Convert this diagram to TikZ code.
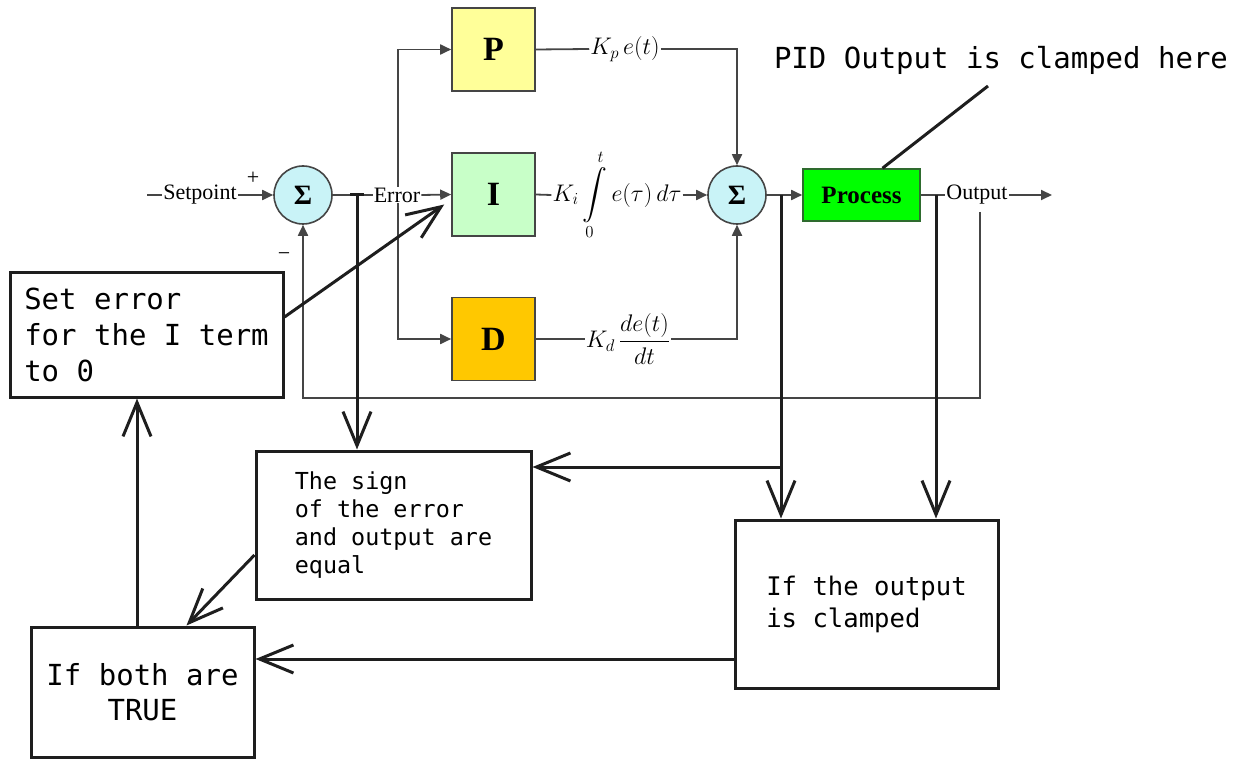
\RequirePackage{fix-cm}
\documentclass[tikz,border=0pt]{standalone}
\usepackage{amsmath}
\usepackage{fontspec}
\setmainfont{Liberation Serif}
\setmonofont{DejaVu Sans Mono}
\usetikzlibrary{arrows.meta, positioning, calc}
\definecolor{linegray}{HTML}{454545}
\definecolor{inkblack}{HTML}{1E1E1E}
\definecolor{sumfill}{HTML}{C9F3F7}
\definecolor{pfill}{HTML}{FFFF99}
\definecolor{ifill}{HTML}{C8FFC8}
\definecolor{dfill}{HTML}{FFC800}
\definecolor{procfill}{HTML}{00FF00}
\definecolor{procdraw}{HTML}{2E6B2E}

\begin{document}
\begin{tikzpicture}[
    x=1pt, y=-1pt,
    every node/.style={font=\fontsize{22}{26}\selectfont},
    sig/.style={draw=linegray, line width=1.8pt},
    sigarrow/.style={sig, -{Triangle[length=11pt, width=10pt]}},
    blk/.style={draw=linegray, line width=1.6pt, minimum width=83pt, minimum height=83pt,
        font=\fontsize{34}{34}\selectfont\bfseries},
    sumnode/.style={circle, draw=linegray, line width=1.6pt, fill=sumfill, minimum size=58pt,
        inner sep=0pt, font=\fontsize{28}{28}\selectfont\bfseries},
    lbl/.style={inner sep=1pt},
    term/.style={inner sep=1pt, font=\fontsize{24}{28}\selectfont},
    note/.style={draw=inkblack, line width=3pt},
    notearrow/.style={note, -{Straight Barb[length=34pt, width=28pt]}},
    notebox/.style={draw=inkblack, line width=3pt, align=left, inner sep=0pt},
]

\useasboundingbox (0,0) rectangle (1239,759);

% summing junctions, the three terms and the process
\node[sumnode] (sum1) at (303,195) {Σ};
\node[blk, fill=pfill] (pblk) at (493.5,49.5) {P};
\node[blk, fill=ifill] (iblk) at (493.5,194.5) {I};
\node[blk, fill=dfill] (dblk) at (493.5,339) {D};
\node[sumnode] (sum2) at (737,195) {Σ};
\node[draw=procdraw, fill=procfill, line width=1.6pt, minimum width=117pt, minimum height=52pt,
    font=\fontsize{25}{25}\selectfont\bfseries] (proc) at (861.5,195) {Process};

% input side
\coordinate (spin) at (147,195);
\node[lbl] (setpt) at (200,195) {Setpoint};
\node[lbl] (plus) at (253,178) {+};
\node[lbl] (minus) at (284,257) {−};
\draw[sig] (spin) -- (setpt.west);
\draw[sigarrow] (setpt.east) -- (sum1.west);

% error branches
\coordinate (br) at (398,195);
\draw[sigarrow] (br) |- (pblk.west);
\draw[sigarrow] (br) |- (dblk.west);
\node[lbl, fill=white] (errlbl) at (397,195) {Error};
\draw[sig] (sum1.east) -- (errlbl.west);
\draw[sigarrow] (errlbl.east) -- (iblk.west);

% the terms into the second junction
\node[term] (kp) at (625,49) {$K_p\, e(t)$};
\node[term] (ki) at (617,195) {$\displaystyle K_i\int\limits_0^t e(\tau)\,d\tau$};
\node[term] (kd) at (628,339) {$K_d\,\dfrac{de(t)}{dt}$};
\draw[sig] (pblk.east) -- (kp.west);
\draw[sigarrow] (kp.east) -| (sum2.north);
\draw[sig] (iblk.east) -- (ki.west);
\draw[sigarrow] (ki.east) -- (sum2.west);
\draw[sig] (dblk.east) -- (kd.west);
\draw[sigarrow] (kd.east) -| (sum2.south);

% output and feedback
\draw[sigarrow] (sum2.east) -- (proc.west);
\node[lbl] (outlbl) at (977,195) {Output};
\coordinate (outend) at (1052,195);
\draw[sig] (proc.east) -- (outlbl.west);
\draw[sigarrow] (outlbl.east) -- (outend);
\coordinate (fbtop) at (980,212);
\coordinate (fbbot) at (980,398);
\draw[sigarrow] (fbtop) -- (fbbot) -| (sum1.south);

% notes drawn over the diagram
\node[font=\fontsize{29}{29}\selectfont\ttfamily] (clamptxt) at (1001,60) {PID Output is clamped here};
\coordinate (clampend) at (988,86);
\draw[note] (clampend) -- ([xshift=21pt]proc.north);

\node[notebox, minimum width=273pt, minimum height=124pt,
    font=\fontsize{29}{36}\selectfont\ttfamily] (seterr) at (146.5,335)
    {Set error\\for the I term\\to 0};
\node[notebox, minimum width=275pt, minimum height=148pt,
    font=\fontsize{23.4}{28}\selectfont\ttfamily] (sign) at (393.5,525)
    {The sign\\of the error\\and output are\\equal};
\node[notebox, minimum width=263pt, minimum height=168pt,
    font=\fontsize{25.6}{32}\selectfont\ttfamily] (clampbox) at (866.5,604)
    {If the output\\is clamped};
\node[notebox, align=center, minimum width=223pt, minimum height=130pt,
    font=\fontsize{29}{35}\selectfont\ttfamily] (both) at (142.5,692)
    {If both are\\TRUE};

\coordinate (errtap) at (357,195);
\draw[note] ([xshift=-7pt]errtap) -- ([xshift=7pt]errtap);
\draw[notearrow] (errtap) -- (errtap |- sign.north);
\draw[notearrow] ([yshift=18pt]seterr.east) -- ([xshift=-7pt, yshift=-10pt]iblk.west);

\coordinate (sumtap) at (781,195);
\coordinate (signtap) at (781,467);
\draw[notearrow] (sumtap) -- (sumtap |- clampbox.north);
\draw[notearrow] (signtap) -- (signtap -| sign.east);
\coordinate (proctap) at (936,195);
\draw[notearrow] (proctap) -- (proctap |- clampbox.north);

\coordinate (cltap) at ([yshift=-55pt]clampbox.west);
\draw[notearrow] (cltap) -- (cltap -| both.east);
\draw[notearrow] ([yshift=-30pt]sign.west) -- ([xshift=44pt]both.north);
\draw[notearrow] ([xshift=-5.5pt]both.north) -- ([xshift=-9.5pt]seterr.south);

\end{tikzpicture}
\end{document}
